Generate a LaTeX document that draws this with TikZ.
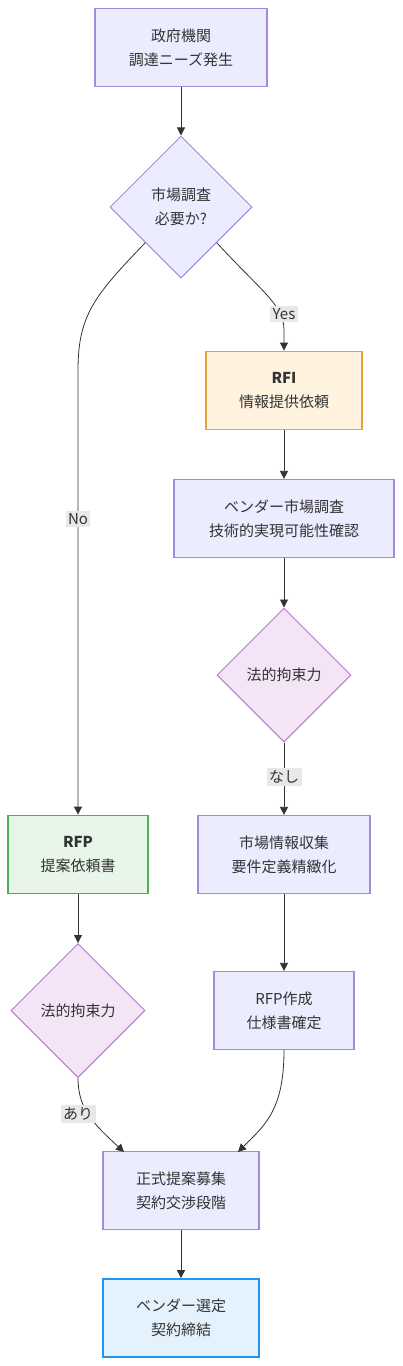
\documentclass[tikz,border=0pt]{standalone}
\usepackage{fontspec}
\setmainfont{Noto Sans CJK JP}
\usetikzlibrary{shapes.geometric,arrows.meta}
\definecolor{ink}{HTML}{333333}
\definecolor{mmfill}{HTML}{ECECFF}
\definecolor{mmline}{HTML}{A08BE0}
\definecolor{rfifill}{HTML}{FFF3E0}
\definecolor{rfiline}{HTML}{EBA13A}
\definecolor{rfpfill}{HTML}{E8F5E9}
\definecolor{rfpline}{HTML}{4CAF50}
\definecolor{lawfill}{HTML}{F3E5F5}
\definecolor{lawline}{HTML}{B57BCC}
\definecolor{endfill}{HTML}{E3F2FD}
\definecolor{endline}{HTML}{2196F3}
\begin{document}
\begin{tikzpicture}[x=1pt, y=-1pt, font=\fontsize{15}{24}\selectfont, text=ink,
  box/.style={draw=mmline, fill=mmfill, line width=1.2pt, minimum height=78pt, align=center},
  ask/.style={diamond, draw=mmline, fill=mmfill, line width=1pt, align=center, inner sep=0pt},
  law/.style={ask, draw=lawline, fill=lawfill, minimum width=134pt, minimum height=134pt},
  rfi/.style={box, draw=rfiline, fill=rfifill, line width=1.8pt},
  rfp/.style={box, draw=rfpline, fill=rfpfill, line width=1.8pt},
  done/.style={box, draw=endline, fill=endfill, line width=1.8pt},
  arr/.style={draw=ink, line width=0.8pt, -{Triangle[length=8pt,width=8pt]}},
  lbl/.style={fill=black!9, inner sep=2.5pt, text=ink}]
  \useasboundingbox (0,0) rectangle (402,1366);
  \node[box, minimum width=172pt] (need) at (181,47.5) {政府機関\\調達ニーズ発生};
  \node[ask, minimum width=142pt, minimum height=142pt] (survey) at (181,207) {市場調査\\必要か?};
  \node[rfi, minimum width=156pt] (rfi) at (284,390.5) {\bfseries RFI\\情報提供依頼};
  \node[box, minimum width=220pt] (vendor) at (284,518.5) {ベンダー市場調査\\技術的実現可能性確認};
  \node[law] (lawa) at (284,675) {法的拘束力};
  \node[box, minimum width=172pt] (info) at (284,854.5) {市場情報収集\\要件定義精緻化};
  \node[box, minimum width=140pt] (make) at (284,1010.5) {RFP作成\\仕様書確定};
  \node[rfp, minimum width=140pt] (rfp) at (78,854.5) {\bfseries RFP\\提案依頼書};
  \node[law] (lawb) at (78,1010.5) {法的拘束力};
  \node[box, minimum width=156pt] (offer) at (181,1190.5) {正式提案募集\\契約交渉段階};
  \node[done, minimum width=156pt] (pick) at (181,1318) {ベンダー選定\\契約締結};
  \coordinate (yesbend) at (284,330);
  \coordinate (nobend) at (78,370);
  \coordinate (arin) at (124,1152);
  \coordinate (mkin) at (238,1152);
  \draw[arr] (need) -- (survey);
  \draw[arr] (survey.-45) .. controls (262,292) and (284,305) .. (yesbend) -- (rfi.north);
  \draw[arr] (survey.-135) .. controls (95,295) and (78,315) .. (nobend) -- (rfp.north);
  \draw[arr] (rfi) -- (vendor);
  \draw[arr] (vendor) -- (lawa);
  \draw[arr] (lawa) -- (info);
  \draw[arr] (info) -- (make);
  \draw[arr] (rfp) -- (lawb);
  \draw[arr] (lawb.south) .. controls (78,1110) and (95,1125) .. (arin);
  \draw[arr] (make.south) .. controls (284,1110) and (265,1125) .. (mkin);
  \draw[arr] (offer) -- (pick);
  \node[lbl] (yes) at (284,314) {Yes};
  \node[lbl] (no) at (78,519) {No};
  \node[lbl] (nashi) at (284,777) {なし};
  \node[lbl] (ari) at (78,1114) {あり};
\end{tikzpicture}
\end{document}
